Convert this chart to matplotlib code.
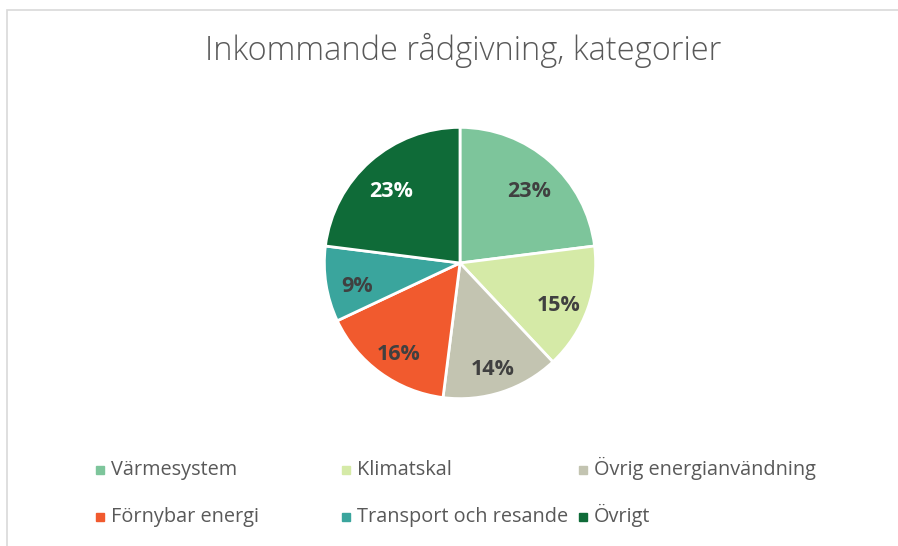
import matplotlib.pyplot as plt
from matplotlib.lines import Line2D
from matplotlib.patches import Rectangle
import numpy as np

categories = ["Värmesystem", "Klimatskal", "Övrig energianvändning",
              "Förnybar energi", "Transport och resande", "Övrigt"]
values = [23, 15, 14, 16, 9, 23]
colors = ["#7dc59b", "#d5eaa7", "#c3c4b1", "#f15a2e", "#3aa59d", "#0f6b38"]
label_colors = ["#404040", "#404040", "#404040", "#404040", "#404040", "#ffffff"]

plt.rcParams['font.family'] = ['Open Sans', 'DejaVu Sans']

W, H = 898, 546
fig = plt.figure(figsize=(8.98, 5.46), dpi=100)
fig.patches.append(Rectangle((7/W, -0.1), 1.2, (H-10)/H + 0.1, transform=fig.transFigure,
                             fill=False, edgecolor="#d9d9d9", linewidth=1.2))

fig.text(0.516, (H-50)/H, "Inkommande rådgivning, kategorier", ha="center", va="center",
         fontsize=23.5, color="#595959", fontweight="light")

ax = fig.add_axes([(460-137)/W, (H-400)/H, 274/W, 274/H])
wedges, texts = ax.pie(values, colors=colors, startangle=90, counterclock=False,
                       wedgeprops=dict(edgecolor="white", linewidth=2))
ax.set_aspect("equal")
ax.set_xlim(-1.01, 1.01)
ax.set_ylim(-1.01, 1.01)

for w, v, c in zip(wedges, values, label_colors):
    ang = np.deg2rad((w.theta1 + w.theta2) / 2)
    r = 0.77
    ax.text(r * np.cos(ang), r * np.sin(ang) - 0.05, f"{v}%", ha="center", va="center",
            fontsize=15.5, fontweight="bold", color=c)

# legend drawn by hand: 3 columns, 2 rows, read left to right
col_x = [100, 346, 583]
row_y = [475, 522]
for i, (name, c) in enumerate(zip(categories, colors)):
    x = col_x[i % 3]
    y = row_y[i // 3]
    fig.add_artist(Line2D([x/W], [(H-y+5)/H], marker="s", markersize=6, linestyle="",
                          markerfacecolor=c, markeredgecolor=c, transform=fig.transFigure))
    fig.text((x + 11)/W, (H-y)/H, name, ha="left", va="baseline",
             fontsize=14.3, color="#595959")

fig.savefig("out.png", dpi=100)
